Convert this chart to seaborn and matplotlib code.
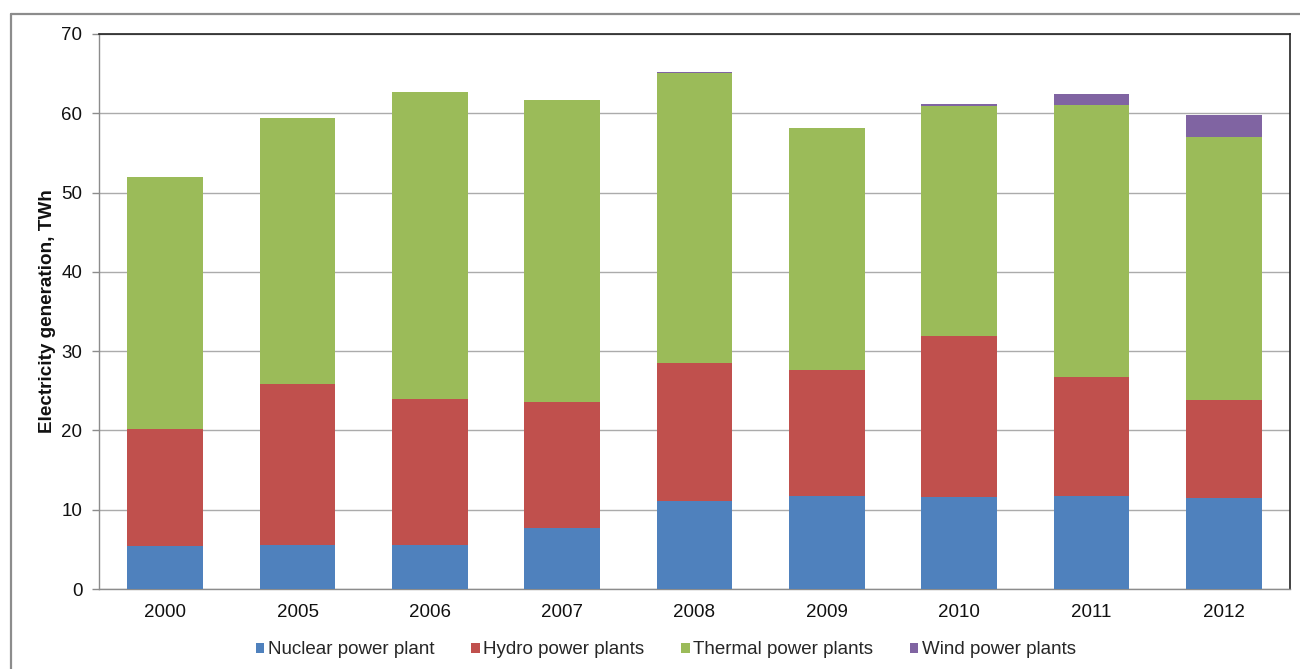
import matplotlib
matplotlib.use("Agg")
import matplotlib.pyplot as plt
from matplotlib.patches import Patch
from matplotlib.lines import Line2D
import numpy as np
import pandas as pd
import seaborn as sns

# Electricity generation by source, TWh
years = ["2000", "2005", "2006", "2007", "2008", "2009", "2010", "2011", "2012"]
nuclear = [5.4, 5.5, 5.6, 7.7, 11.1, 11.7, 11.6, 11.7, 11.5]
hydro = [14.8, 20.4, 18.4, 15.9, 17.4, 15.9, 20.3, 15.0, 12.3]
thermal = [31.8, 33.5, 38.7, 38.1, 36.6, 30.5, 29.0, 34.3, 33.2]
wind = [0.0, 0.0, 0.0, 0.0, 0.15, 0.1, 0.3, 1.4, 2.8]

series_names = ["Nuclear power plant", "Hydro power plants",
                "Thermal power plants", "Wind power plants"]
series_values = [nuclear, hydro, thermal, wind]
colors = ["#4F81BD", "#C0504D", "#9BBB59", "#8064A2"]

sns.set_theme(style="white")
plt.rcParams["font.family"] = ["Liberation Sans", "DejaVu Sans"]

fig = plt.figure(figsize=(13.0, 6.69), dpi=100)
ax = fig.add_axes([99 / 1300, 1 - 589 / 669, (1290 - 99) / 1300, (589 - 34) / 669])

bottom = np.zeros(len(years))
for name, vals, col in zip(series_names, series_values, colors):
    df = pd.DataFrame({"year": years, "value": vals})
    sns.barplot(data=df, x="year", y="value", color=col, saturation=1,
                width=0.57, bottom=bottom.copy(), ax=ax, linewidth=0,
                errorbar=None, zorder=3)
    bottom += np.array(vals)

ax.set_ylim(0, 70)
ax.set_xlim(-0.5, len(years) - 0.5)
ax.set_yticks(np.arange(0, 71, 10))
ax.yaxis.grid(True, color="#ABABAB", linewidth=1.0, zorder=0)
ax.set_axisbelow(True)

for side in ["left", "bottom"]:
    ax.spines[side].set_color("#8C8C8C")
    ax.spines[side].set_linewidth(1.0)
for side in ["top", "right"]:
    ax.spines[side].set_color("#222222")
    ax.spines[side].set_linewidth(1.2)

ax.tick_params(axis="y", which="both", left=True, length=5, width=1,
               color="#8C8C8C", labelsize=13.5, pad=7, labelcolor="#111111")
ax.tick_params(axis="x", length=0, labelsize=13.5, pad=11, labelcolor="#111111")
ax.set_xlabel("")
ax.set_ylabel("Electricity generation, TWh", fontsize=13.6, fontweight="bold",
              color="#111111")
ax.yaxis.set_label_coords(-0.036, 0.5)

handles = [Patch(facecolor=c, edgecolor="none") for c in colors]
fig.legend(handles, series_names, loc="center", bbox_to_anchor=(666 / 1300, 1 - 650 / 669),
           ncol=4, frameon=False, fontsize=13.5, handlelength=0.45, handleheight=0.45,
           handletextpad=0.2, columnspacing=1.95)

# Chart frame
fx = 11 / 1300
fy = 1 - 14 / 669
fig.add_artist(Line2D([fx, fx], [0, fy], transform=fig.transFigure,
                      color="#8C8C8C", linewidth=1.6))
fig.add_artist(Line2D([fx, 1], [fy, fy], transform=fig.transFigure,
                      color="#8C8C8C", linewidth=1.6))

fig.savefig("out.png", dpi=100, facecolor="white")
